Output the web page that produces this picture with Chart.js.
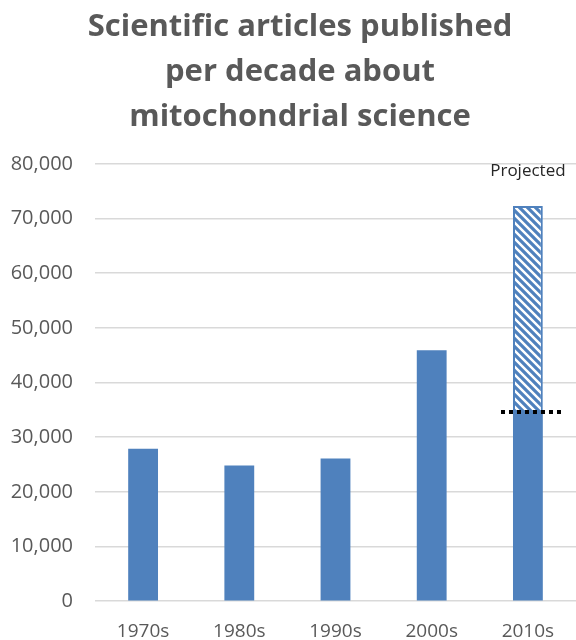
<!DOCTYPE html>
<html>
<head>
<meta charset="utf-8">
<script src="https://cdn.jsdelivr.net/npm/chart.js@4.4.1/dist/chart.umd.min.js"></script>
<style>
  html, body { margin: 0; padding: 0; background: #ffffff; }
  #wrap { width: 576px; height: 640px; }
</style>
</head>
<body>
<div id="wrap"><canvas id="articles-chart"></canvas></div>
<script>
const decades = ["1970s", "1980s", "1990s", "2000s", "2010s"];
const articles = [27900, 24800, 26100, 45900, 34600];
const projected = [null, null, null, null, 72300];
const yTicks = [0, 10000, 20000, 30000, 40000, 50000, 60000, 70000, 80000];

const Config = {
  colors: {
    bar: "#4f81bd",
    text: "#595959",
    grid: "#d9d9d9",
    marker: "#000000",
  },
  font: '"Open Sans", sans-serif',
};

// diagonal hatch for the projected part of the bar
const makeHatch = () => {
  const size = 8;
  const c = document.createElement("canvas");
  c.width = size;
  c.height = size;
  const g = c.getContext("2d");
  g.fillStyle = "#ffffff";
  g.fillRect(0, 0, size, size);
  g.strokeStyle = Config.colors.bar;
  g.lineWidth = 3.2;
  g.beginPath();
  g.moveTo(-size, 0); g.lineTo(size, size * 2);
  g.moveTo(0, 0); g.lineTo(size, size);
  g.moveTo(0, -size); g.lineTo(size * 2, size);
  g.stroke();
  return g.createPattern(c, "repeat");
};

// dotted cut line + "Projected" label on the last bar
const projectionMarks = {
  id: "projectionMarks",
  afterLayout(chart) {
    // let the y labels use the space left of the padded box (title stays centred like the original)
    chart.scales.y.left = 0;
  },
  afterDatasetsDraw(chart) {
    const idx = decades.length - 1;
    const bar = chart.getDatasetMeta(0).data[idx];
    if (!bar) return;
    const y = chart.scales.y.getPixelForValue(articles[idx]);
    const half = bar.width / 2;
    const c = chart.ctx;
    c.save();
    c.strokeStyle = Config.colors.marker;
    c.lineWidth = 4;
    c.setLineDash([4, 4]);
    c.beginPath();
    c.moveTo(bar.x - half - 12, y);
    c.lineTo(bar.x + half + 22, y);
    c.stroke();
    c.setLineDash([]);
    c.fillStyle = "#262626";
    c.font = `17px ${Config.font}`;
    c.textAlign = "center";
    c.textBaseline = "middle";
    c.fillText("Projected", bar.x, chart.scales.y.getPixelForValue(78700));
    c.restore();
  },
};

new Chart(document.getElementById("articles-chart"), {
  type: "bar",
  data: {
    labels: decades,
    datasets: [
      {
        label: "Articles",
        data: articles,
        backgroundColor: Config.colors.bar,
        borderWidth: 0,
        order: 1,
      },
      {
        label: "Projected",
        data: projected.map((v, i) => (v == null ? null : [articles[i], v])),
        backgroundColor: makeHatch(),
        borderColor: Config.colors.bar,
        borderWidth: 2,
        borderSkipped: false,
        order: 2,
      },
    ],
  },
  options: {
    responsive: true,
    maintainAspectRatio: false,
    animation: false,
    grouped: false,
    barPercentage: 0.31,
    categoryPercentage: 1,
    layout: { padding: { left: 24, right: 0, top: 2, bottom: -14 } },
    scales: {
      x: {
        grid: { display: false },
        border: { display: false },
        ticks: {
          color: Config.colors.text,
          font: { size: 19, family: Config.font },
          padding: 11,
        },
      },
      y: {
        min: 0,
        max: 80000,
        afterBuildTicks: (axis) => {
          axis.ticks = yTicks.map((value) => ({ value }));
        },
        afterFit: (axis) => {
          axis.width = 71;
        },
        grid: { color: Config.colors.grid, lineWidth: 1.5, drawTicks: false },
        border: { display: false },
        ticks: {
          color: Config.colors.text,
          font: { size: 20, family: Config.font },
          padding: 22,
          callback: (v) => v.toLocaleString("en-US"),
        },
      },
    },
    plugins: {
      legend: { display: false },
      tooltip: { enabled: false },
      title: {
        display: true,
        text: [
          "Scientific articles published",
          "per decade about",
          "mitochondrial science",
        ],
        color: Config.colors.text,
        font: { size: 31, weight: "bold", family: Config.font, lineHeight: 1.45 },
        padding: { top: 3, bottom: 24 },
      },
    },
  },
  plugins: [projectionMarks],
});
</script>
</body>
</html>
